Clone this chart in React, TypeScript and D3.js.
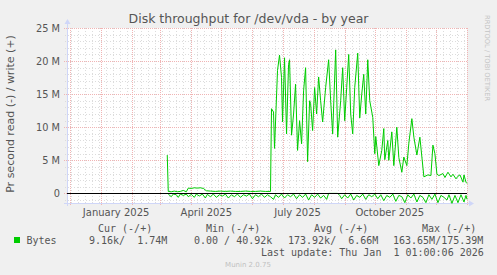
import React from 'react';
import * as d3 from 'd3';

const W = 497;
const H = 275;

// time domain (UTC days)
const domainStart = Date.UTC(2024, 10, 28);
const domainEnd = Date.UTC(2026, 0, 1);
const dayBase = Date.UTC(2025, 0, 1);

const yTickValues = [0, 5e6, 10e6, 15e6, 20e6, 25e6];
const yTickLabels = ['0', '5 M', '10 M', '15 M', '20 M', '25 M'];
const xLabelMonths = [0, 3, 6, 9];
const xLabelTexts = ['January 2025', 'April 2025', 'July 2025', 'October 2025'];

// write (+), days since 2025-01-01, values in M
const writeDay = [66, 67, 70, 73, 76, 79, 82, 85, 87, 90, 93, 96, 99, 102, 105, 109, 114, 119, 124, 129, 134, 139, 144, 149, 154, 159, 164, 169,
  170, 172, 173, 176, 178, 180, 181, 183, 185, 187, 188, 190, 192, 194, 196, 198, 200, 202, 204, 206, 208, 209, 211, 213, 215, 217, 219, 221,
  224, 227, 229, 231, 234, 236, 239, 241, 243, 245, 247, 249, 251, 253, 256, 258, 260, 262, 264, 266, 268, 271, 273, 274, 277, 280, 282, 283,
  286, 287, 290, 292, 295, 297, 300, 302, 305, 307, 310, 312, 315, 318, 321, 322, 326, 329, 331, 333, 335, 337, 341, 343, 346, 349, 351, 354,
  356, 358, 361, 362, 364, 365];
const writeM = [5.8, 0.3, 0.25, 0.35, 0.25, 0.3, 0.45, 0.25, 0.8, 0.75, 0.85, 0.8, 0.85, 0.75, 0.4, 0.35, 0.3, 0.35, 0.3, 0.35, 0.3, 0.3, 0.35, 0.3, 0.3, 0.35, 0.3, 0.3,
  12.8, 12.3, 6.8, 18.6, 20.9, 17.5, 10.8, 20.5, 9.0, 19.5, 20.2, 8.8, 12.0, 16.5, 6.5, 11.0, 7.5, 15.5, 19.0, 4.8, 14.0, 13.6, 9.5, 16.0, 12.0, 17.6, 14.0, 10.8,
  16.0, 20.2, 14.0, 9.0, 21.7, 8.5, 14.0, 19.0, 11.0, 16.0, 21.0, 12.0, 9.0, 16.0, 21.2, 11.4, 15.0, 18.0, 12.0, 20.2, 14.0, 11.5, 6.0, 8.6, 4.2, 6.5, 9.8, 5.1,
  8.0, 5.0, 9.3, 4.2, 10.0, 5.4, 3.2, 5.5, 4.2, 7.6, 11.3, 8.5, 5.8, 8.5, 4.0, 2.5, 2.8, 2.7, 7.3, 6.0, 2.9, 2.7, 3.0, 2.4, 3.2, 2.5, 2.9, 2.2,
  2.6, 2.8, 1.7, 2.8, 1.7, 1.5];

// read (-), days since 2025-01-01, values in M
const readDay = [67, 70, 72, 75, 77, 79, 82, 85, 87, 90, 93, 95, 98, 101, 104, 106, 109, 112, 115, 118, 121, 124, 127, 130, 133, 136, 139, 142, 145,
  148, 151, 154, 157, 160, 163, 166, 169, 172, 174, 177, 180, 183, 186, 189, 192, 195, 198, 201, 204, 207, 210, 213, 216, 219, 222, 225, 227, 236,
  238, 240, 243, 246, 249, 252, 255, 258, 261, 264, 267, 270, 273, 276, 279, 282, 285, 288, 291, 294, 297, 300, 303, 306, 309, 312, 315, 318, 321,
  324, 327, 330, 333, 336, 339, 342, 345, 347, 350, 353, 356, 359, 362, 364, 365];
const readM = [-0.1, -0.5, -0.1, -0.2, -0.6, -0.1, -0.3, -0.1, -0.5, -0.15, -0.6, -0.1, -0.4, -0.1, -0.7, -0.15, -0.5, -0.1, -0.6, -0.2, -0.4, -0.1, -0.7, -0.2, -0.5, -0.1, -0.6, -0.2, -0.4,
  -0.1, -0.8, -0.2, -0.5, -0.1, -0.6, -0.2, -0.5, -0.9, -0.2, -0.6, -0.1, -0.7, -0.2, -0.5, -0.1, -0.8, -0.2, -0.6, -0.1, -1.0, -0.2, -0.6, -0.1, -0.7, -0.3, -0.9, 0, 0,
  -0.3, -0.8, -0.2, -0.7, -0.1, -1.0, -0.3, -0.6, -0.1, -0.9, -0.2, -0.5, -0.1, -0.8, -0.2, -1.1, -0.3, -0.6, -0.1, -1.2, -0.3, -0.5, -1.4, -0.2, -0.7, -0.1, -1.3, -0.3, -0.6,
  -1.4, -0.2, -0.9, -0.1, -1.4, -0.3, -0.6, -1.0, -0.2, -1.5, -0.3, -1.4, -0.2, -1.3, -0.3, -0.9];

const legendHeaders = ['Cur (-/+)', 'Min (-/+)', 'Avg (-/+)', 'Max (-/+)'];
const legendValues = ['9.16k/  1.74M', '0.00 / 40.92k', '173.92k/  6.66M', '163.65M/175.39M'];
const legendName = 'Bytes';
const lastUpdate = 'Last update: Thu Jan  1 01:00:06 2026';

const dayToDate = (d: number) => new Date(dayBase + d * 86400000);

export default function App() {
  const left = 67, right = 467, top = 28, bottom = 203;
  const x = d3.scaleUtc().domain([new Date(domainStart), new Date(domainEnd)]).range([left, right]);
  const y = d3.scaleLinear().domain([-1.45e6, 25e6]).range([bottom, top]);

  const writePts = writeDay.map((d, i) => [x(dayToDate(d)), y(writeM[i] * 1e6)] as [number, number]);
  const readPts = readDay.map((d, i) => [x(dayToDate(d)), y(readM[i] * 1e6)] as [number, number]);
  const line = d3.line<[number, number]>();

  // grid
  const minorY = d3.range(-1, 26).map(v => v * 1e6).filter(v => v % 5e6 !== 0);
  const months = d3.utcMonth.range(new Date(domainStart), new Date(domainEnd + 1));
  const weeks = d3.utcMonday.range(new Date(domainStart), new Date(domainEnd + 1));

  const font = 'DejaVu Sans, sans-serif';
  const mono = 'DejaVu Sans Mono, monospace';
  const fc = '#555555';
  const legendX = [89, 194, 288, 393];
  const headerX = [98, 206, 314, 422];
  const y0 = Math.round(y(0)) + 0.5;

  return (
    <svg width={W} height={H} style={{ position: 'absolute', left: 0, top: 0 }} xmlns="http://www.w3.org/2000/svg">
      <rect x={0} y={0} width={W} height={H} fill="#f0f0f0" />
      <rect x={left} y={top} width={right - left} height={bottom - top} fill="#ffffff" />
      {/* minor grid */}
      <g stroke="#dcdcdc" strokeWidth={1} strokeDasharray="1,2" shapeRendering="crispEdges">
        {weeks.map((w, i) => {
          const xx = Math.round(x(w)) + 0.5;
          return <line key={'w' + i} x1={xx} x2={xx} y1={top} y2={bottom + 2} />;
        })}
        {minorY.map((v, i) => {
          const yy = Math.round(y(v)) + 0.5;
          return <line key={'my' + i} x1={left - 2} x2={right} y1={yy} y2={yy} />;
        })}
      </g>
      {/* major grid */}
      <g stroke="#f0b4b4" strokeWidth={1} strokeDasharray="1,1" shapeRendering="crispEdges">
        {months.map((m, i) => {
          const xx = Math.round(x(m)) + 0.5;
          return <line key={'m' + i} x1={xx} x2={xx} y1={top} y2={bottom + 3} />;
        })}
        {yTickValues.map((v, i) => {
          const yy = Math.round(y(v)) + 0.5;
          return <line key={'My' + i} x1={left - 3} x2={right} y1={yy} y2={yy} />;
        })}
      </g>
      {/* axes */}
      <g stroke="#cfd6f8" strokeWidth={1} shapeRendering="crispEdges">
        <line x1={left + 0.5} x2={left + 0.5} y1={bottom + 3} y2={top - 5} />
        <line x1={left - 3} x2={right + 4} y1={bottom + 0.5} y2={bottom + 0.5} />
      </g>
      <path d={`M${left - 2.5},${top - 4} L${left + 3.5},${top - 4} L${left + 0.5},${top - 9} Z`} fill="#cfd6f8" />
      <path d={`M${right + 2},${bottom - 2.5} L${right + 2},${bottom + 3.5} L${right + 7},${bottom + 0.5} Z`} fill="#cfd6f8" />
      {/* data */}
      <path d={line(readPts) || ''} fill="none" stroke="#00cc00" strokeWidth={1} />
      <path d={line(writePts) || ''} fill="none" stroke="#00cc00" strokeWidth={1} />
      <line x1={left} x2={right} y1={y0} y2={y0} stroke="#000000" strokeWidth={1.2} />
      {/* y tick labels */}
      {yTickValues.map((v, i) => (
        <text key={'yl' + i} x={60} y={y(v) + 3.5} textAnchor="end" fontFamily={font} fontSize={9.8} fill={fc}>{yTickLabels[i]}</text>
      ))}
      {/* x labels */}
      {xLabelMonths.map((m, i) => (
        <text key={'xl' + i} x={x(new Date(Date.UTC(2025, m, 1)).getTime() + 15 * 86400000)} y={216} textAnchor="middle" fontFamily={font} fontSize={10} fill={fc}>{xLabelTexts[i]}</text>
      ))}
      {/* title */}
      <text x={248.5} y={23} textAnchor="middle" fontFamily={font} fontSize={12.5} fill={fc}>Disk throughput for /dev/vda - by year</text>
      {/* y axis title */}
      <text transform="translate(14,114) rotate(-90)" textAnchor="middle" fontFamily={font} fontSize={11} fill={fc}>Pr second read (-) / write (+)</text>
      {/* watermark */}
      <text transform="translate(485,15) rotate(90)" textAnchor="start" fontFamily={font} fontSize={6.7} fill="#c4c4c4">RRDTOOL / TOBI OETIKER</text>
      {/* legend */}
      {legendHeaders.map((h, i) => (
        <text key={'lh' + i} x={headerX[i]} y={232} fontFamily={mono} fontSize={10} fill={fc} style={{ whiteSpace: 'pre' }}>{h}</text>
      ))}
      <rect x={14} y={237} width={6} height={6} fill="#00cc00" />
      <text x={26.5} y={244} fontFamily={mono} fontSize={10} fill={fc}>{legendName}</text>
      {legendValues.map((v, i) => (
        <text key={'lv' + i} x={legendX[i]} y={244} fontFamily={mono} fontSize={10} fill={fc} style={{ whiteSpace: 'pre' }}>{v}</text>
      ))}
      <text x={261} y={256} fontFamily={mono} fontSize={10} fill={fc} style={{ whiteSpace: 'pre' }}>{lastUpdate}</text>
      <text x={248} y={267} textAnchor="middle" fontFamily={font} fontSize={7} fill="#c0c0c0">Munin 2.0.75</text>
    </svg>
  );
}
